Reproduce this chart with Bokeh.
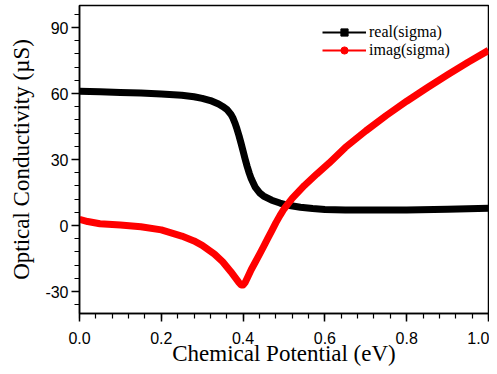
from bokeh.plotting import figure
from bokeh.models import (Range1d, FixedTicker, Legend, LegendItem, NumeralTickFormatter,
                          PrintfTickFormatter)
from bokeh.embed import file_html
from bokeh.resources import INLINE

# ---- data ----
real_x = [0.00, 0.05, 0.10, 0.15, 0.20, 0.25, 0.28, 0.30, 0.32, 0.34, 0.35, 0.36,
          0.37, 0.375, 0.38, 0.385, 0.39, 0.395, 0.40, 0.405, 0.41, 0.415, 0.42,
          0.43, 0.44, 0.45, 0.47, 0.49, 0.51, 0.54, 0.57, 0.60, 0.65, 0.70, 0.80,
          0.90, 1.00]
real_y = [61.0, 60.8, 60.5, 60.2, 59.8, 59.2, 58.5, 57.8, 56.8, 55.2, 54.1, 52.8,
          50.6, 48.9, 46.6, 43.9, 40.8, 37.4, 33.8, 30.2, 26.8, 23.8, 21.2,
          17.3, 14.9, 13.4, 11.5, 10.2, 9.2, 8.3, 7.7, 7.3, 7.1, 7.0, 7.1,
          7.4, 7.8]

imag_x = [0.00, 0.02, 0.05, 0.10, 0.15, 0.20, 0.25, 0.28, 0.30, 0.33, 0.35, 0.37,
          0.38, 0.39, 0.395, 0.40, 0.405, 0.41, 0.42, 0.43, 0.44, 0.45, 0.46, 0.47,
          0.48, 0.49, 0.50, 0.52, 0.55, 0.58, 0.61, 0.65, 0.70, 0.75, 0.80, 0.85,
          0.90, 0.95, 1.00]
imag_y = [2.8, 1.8, 0.8, 0.2, -0.6, -2.0, -4.8, -7.0, -9.0, -13.0, -16.5, -21.0,
          -23.5, -26.0, -27.0, -27.0, -25.9, -24.0, -20.0, -16.6, -13.1, -9.6, -6.0, -2.4,
          1.2, 4.5, 7.5, 12.3, 18.2, 23.4, 28.3, 35.5, 43.0, 50.0, 56.5, 62.6,
          68.5, 74.2, 79.6]

x_major = [0.0, 0.2, 0.4, 0.6, 0.8, 1.0]
x_minor = [round(i * 0.04, 2) for i in range(26)]
y_major = [-30, 0, 30, 60, 90]
y_minor = list(range(-36, 100, 6))

series_names = ["real(sigma)", "imag(sigma)"]
series_colors = ["#000000", "#ff0000"]
nan = float("nan")

p = figure(width=489, height=370, output_backend="svg", toolbar_location=None,
           x_range=Range1d(0, 1), y_range=Range1d(-40, 100),
           min_border_left=79, min_border_right=1, min_border_top=5, min_border_bottom=57)

p.background_fill_color = "white"
p.border_fill_color = "white"
p.outline_line_color = "black"
p.outline_line_width = 1.5
p.grid.visible = False

r1 = p.line(real_x, real_y, line_color=series_colors[0], line_width=7, line_join="round")
r2 = p.line(imag_x, imag_y, line_color=series_colors[1], line_width=7, line_join="round")

# thin legend-only glyphs (no visible data)
l1 = p.line([nan], [nan], line_color=series_colors[0], line_width=2)
m1 = p.scatter([nan], [nan], marker="square", size=6, color=series_colors[0])
l2 = p.line([nan], [nan], line_color=series_colors[1], line_width=2)
m2 = p.scatter([nan], [nan], marker="circle", size=6, color=series_colors[1])

legend = Legend(items=[LegendItem(label=series_names[0], renderers=[l1, m1]),
                       LegendItem(label=series_names[1], renderers=[l2, m2])],
                location=(243, 254), padding=0, margin=0, spacing=0,
                glyph_width=44, glyph_height=18, label_height=18, label_standoff=3,
                label_text_font="Liberation Serif", label_text_font_size="16px",
                label_text_color="black", border_line_color=None,
                background_fill_alpha=0)
p.add_layout(legend, "center")

for ax in (p.xaxis[0], p.yaxis[0]):
    ax.axis_line_color = "black"
    ax.axis_line_width = 1.5
    ax.major_tick_line_color = "black"
    ax.minor_tick_line_color = "black"
    ax.major_tick_line_width = 1.5
    ax.minor_tick_line_width = 1.2
    ax.major_tick_in = 0
    ax.major_tick_out = 8
    ax.minor_tick_in = 0
    ax.minor_tick_out = 5
    ax.major_label_text_font = "Liberation Sans"
    ax.major_label_text_font_size = "16px"
    ax.major_label_text_color = "black"
    ax.axis_label_text_font = "Liberation Serif"
    ax.axis_label_text_font_size = "23px"
    ax.axis_label_text_font_style = "normal"
    ax.axis_label_text_color = "black"

p.xaxis.ticker = FixedTicker(ticks=x_major, minor_ticks=x_minor)
p.yaxis.ticker = FixedTicker(ticks=y_major, minor_ticks=y_minor)
p.xaxis.formatter = NumeralTickFormatter(format="0.0")
p.yaxis.formatter = PrintfTickFormatter(format="%d")
p.xaxis.axis_label = "Chemical Potential (eV)"
p.yaxis.axis_label = "Optical Conductivity (\u00b5S)"
p.xaxis.major_label_standoff = 10
p.yaxis.major_label_standoff = 3
p.xaxis.axis_label_standoff = -6
p.yaxis.axis_label_standoff = 8

open("out.html", "w").write(file_html(p, INLINE))
